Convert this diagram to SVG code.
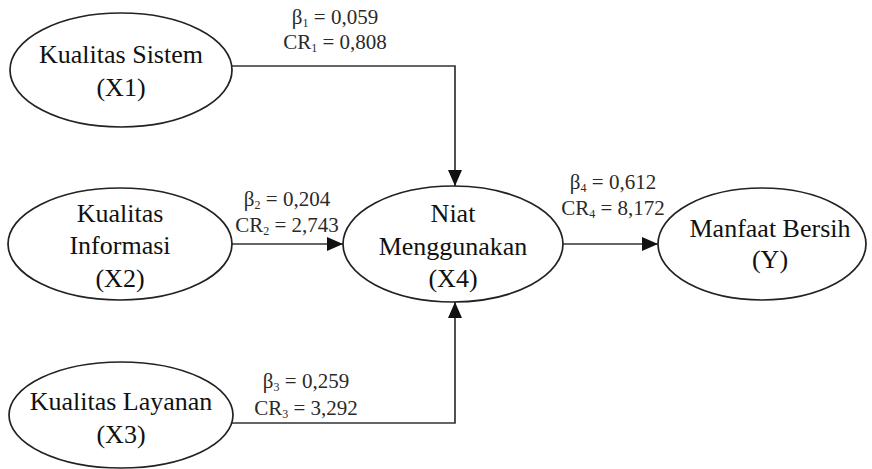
<svg xmlns="http://www.w3.org/2000/svg" width="872" height="469" viewBox="0 0 872 469">
  <style>
    .node ellipse { fill: #ffffff; stroke: #222222; stroke-width: 1.7; }
    .node text { font-family: "Liberation Serif", "Times New Roman", serif; font-size: 26px; fill: #111111; text-anchor: middle; }
    .edge { fill: none; stroke: #333333; stroke-width: 1.7; }
    .lbl { font-family: "Liberation Serif", "Times New Roman", serif; font-size: 21px; fill: #2a2a2a; text-anchor: middle; }
    .sub { font-size: 12px; }
  </style>
  <defs>
    <marker id="arrow" viewBox="0 0 16 14" refX="16" refY="7" markerWidth="16" markerHeight="14" markerUnits="userSpaceOnUse" orient="auto">
      <path d="M0,0 L16,7 L0,14 Z" fill="#111111"/>
    </marker>
  </defs>
  <rect width="872" height="469" fill="#ffffff"/>

  <g id="connectors">
    <path class="edge" d="M232,66 H455 V186" marker-end="url(#arrow)"/>
    <path class="edge" d="M232,244 H343" marker-end="url(#arrow)"/>
    <path class="edge" d="M232,423 H455 V302" marker-end="url(#arrow)"/>
    <path class="edge" d="M563,244 H658" marker-end="url(#arrow)"/>
  </g>

  <g id="labels">
    <text class="lbl" x="335" y="24">β<tspan class="sub" dy="3">1</tspan><tspan dy="-3"> = 0,059</tspan></text>
    <text class="lbl" x="335" y="49">CR<tspan class="sub" dy="3">1</tspan><tspan dy="-3"> = 0,808</tspan></text>
    <text class="lbl" x="287" y="206">β<tspan class="sub" dy="3">2</tspan><tspan dy="-3"> = 0,204</tspan></text>
    <text class="lbl" x="287" y="232">CR<tspan class="sub" dy="3">2</tspan><tspan dy="-3"> = 2,743</tspan></text>
    <text class="lbl" x="306" y="388">β<tspan class="sub" dy="3">3</tspan><tspan dy="-3"> = 0,259</tspan></text>
    <text class="lbl" x="306" y="415">CR<tspan class="sub" dy="3">3</tspan><tspan dy="-3"> = 3,292</tspan></text>
    <text class="lbl" x="613" y="189">β<tspan class="sub" dy="3">4</tspan><tspan dy="-3"> = 0,612</tspan></text>
    <text class="lbl" x="613" y="215">CR<tspan class="sub" dy="3">4</tspan><tspan dy="-3"> = 8,172</tspan></text>
  </g>

  <g id="x1" class="node">
    <ellipse cx="121" cy="70" rx="111" ry="57"/>
    <text x="121" y="63">Kualitas Sistem</text>
    <text x="121" y="96">(X1)</text>
  </g>

  <g id="x2" class="node">
    <ellipse cx="120" cy="244" rx="112" ry="56"/>
    <text x="120" y="222">Kualitas</text>
    <text x="120" y="254">Informasi</text>
    <text x="120" y="287">(X2)</text>
  </g>

  <g id="x3" class="node">
    <ellipse cx="121" cy="415" rx="112" ry="53"/>
    <text x="121" y="410">Kualitas Layanan</text>
    <text x="121" y="443">(X3)</text>
  </g>

  <g id="x4" class="node">
    <ellipse cx="453" cy="244" rx="110" ry="58"/>
    <text x="453" y="222">Niat</text>
    <text x="453" y="255">Menggunakan</text>
    <text x="453" y="287">(X4)</text>
  </g>

  <g id="y" class="node">
    <ellipse cx="762" cy="244" rx="104" ry="56"/>
    <text x="770" y="237">Manfaat Bersih</text>
    <text x="770" y="268">(Y)</text>
  </g>
</svg>
